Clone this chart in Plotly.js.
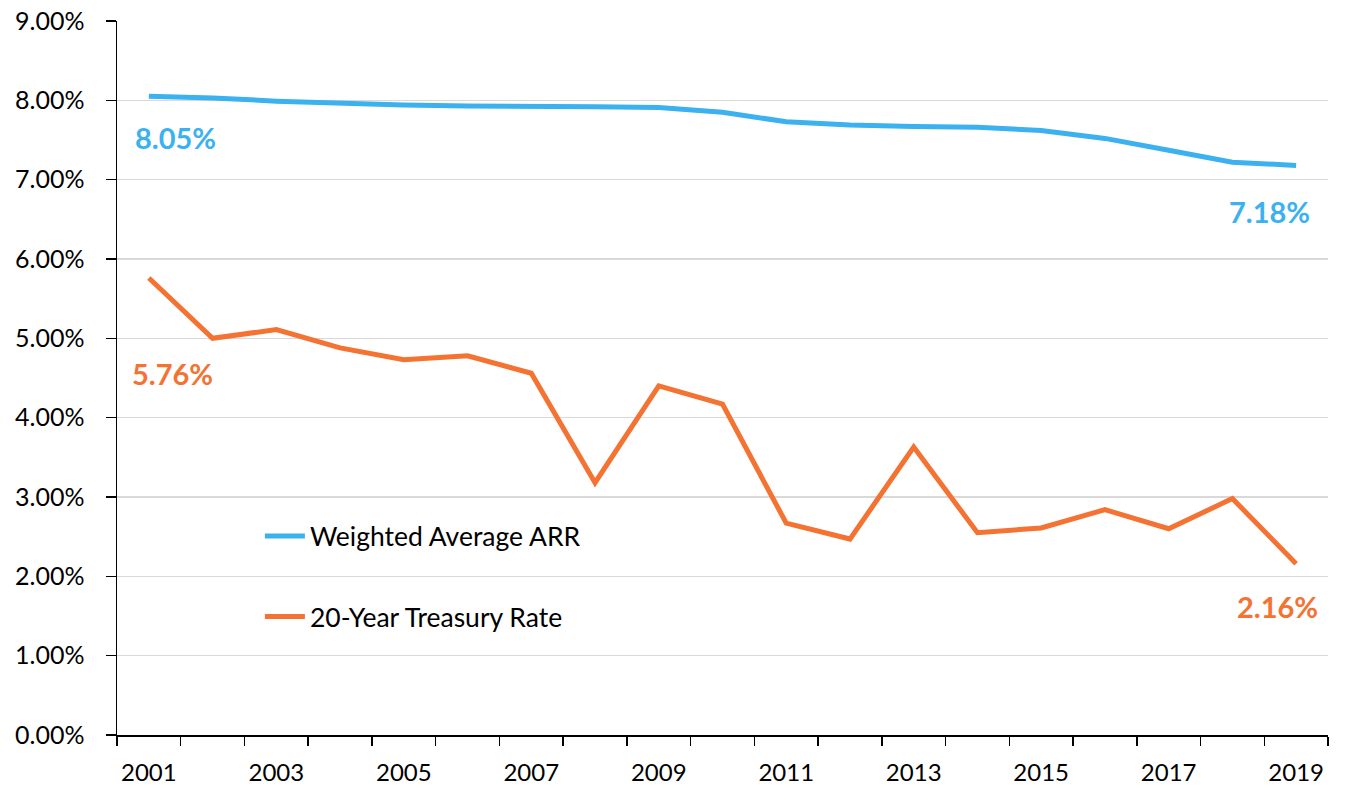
<!DOCTYPE html>
<html>
<head>
<meta charset="utf-8">
<script src="https://cdn.plot.ly/plotly-3.0.1.min.js"></script>
<style>html,body{margin:0;padding:0;background:#fff;}#chart{width:1350px;height:802px;}</style>
</head>
<body>
<div id="chart"></div>
<script>
const years = [2001,2002,2003,2004,2005,2006,2007,2008,2009,2010,2011,2012,2013,2014,2015,2016,2017,2018,2019];
const arr = [8.05,8.03,7.99,7.96,7.94,7.93,7.93,7.92,7.91,7.85,7.73,7.69,7.67,7.66,7.62,7.52,7.37,7.22,7.18];
const treasury = [5.76,5.00,5.11,4.88,4.73,4.78,4.56,3.18,4.40,4.17,2.67,2.47,3.63,2.55,2.61,2.84,2.60,2.98,2.16];
const seriesNames = ['Weighted Average ARR','20-Year Treasury Rate'];
const tickYears = [2001,2003,2005,2007,2009,2011,2013,2015,2017,2019];

const blue = '#3bb1f0';
const orange = '#f47232';
const font = 'Lato, "Open Sans", sans-serif';

const traces = [
  {x: years, y: arr, name: seriesNames[0], mode: 'lines', legendgroup: 'a',
   line: {color: blue, width: 5}},
  {x: years, y: treasury, name: seriesNames[1], mode: 'lines', legendgroup: 'b',
   line: {color: orange, width: 5}}
];

function lbl(i, vals, color, xs, ys){
  return {x: years[i], y: vals[i], xref: 'x', yref: 'y', text: vals[i].toFixed(2) + '%',
    showarrow: false, xshift: xs, yshift: ys,
    font: {family: font, size: 29, color: color, weight: 'bold'}};
}
const last = years.length - 1;

const layout = {
  width: 1350, height: 802,
  margin: {l: 117, r: 22, t: 21, b: 67},
  paper_bgcolor: '#fff', plot_bgcolor: '#fff',
  font: {family: font, size: 24, color: '#000'},
  showlegend: true,
  legend: {x: 0.118, y: 0.312, xanchor: 'left', yanchor: 'top', tracegroupgap: 43,
    font: {family: font, size: 26.5, color: '#000'}, bgcolor: 'rgba(0,0,0,0)', itemwidth: 40},
  xaxis: {type: 'linear', range: [2000.5, 2019.5], tickvals: tickYears, ticktext: tickYears.map(String),
    ticks: '', showgrid: false, zeroline: false, showline: true, linecolor: '#000', linewidth: 1.5,
    ticklabelstandoff: 16,
    tickfont: {family: font, size: 24, color: '#000'},
    minor: {ticks: 'outside', tick0: 2000.5, dtick: 1, ticklen: 9, tickcolor: '#000', tickwidth: 1.5, showgrid: false}},
  yaxis: {range: [0, 9], dtick: 1, tick0: 0, tickformat: '.2f', ticksuffix: '%',
    ticks: 'outside', ticklen: 10, tickcolor: '#000', tickwidth: 1.5,
    ticklabelstandoff: 16,
    showgrid: true, gridcolor: '#d9d9d9', gridwidth: 1.5, zeroline: false,
    showline: true, linecolor: '#000', linewidth: 1.5,
    tickfont: {family: font, size: 25, color: '#000'}},
  annotations: [
    lbl(0, arr, blue, 27, -41),
    lbl(last, arr, blue, -27, -46),
    lbl(0, treasury, orange, 24, -95),
    lbl(last, treasury, orange, -19, -43)
  ]
};

Plotly.newPlot('chart', traces, layout, {displayModeBar: false, staticPlot: true});
</script>
</body>
</html>
